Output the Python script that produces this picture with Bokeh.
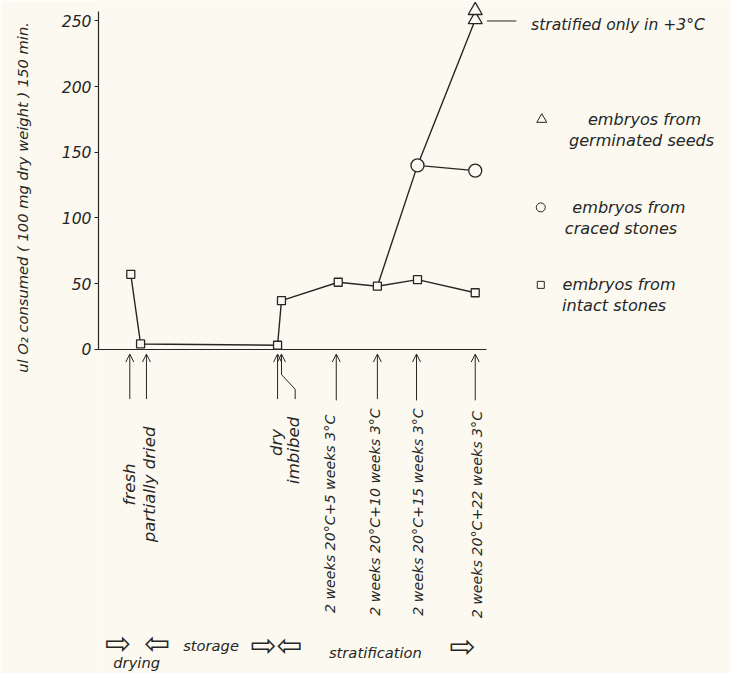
import math
from bokeh.plotting import figure
from bokeh.models import Range1d, FixedTicker, Arrow, OpenHead, ColumnDataSource, LinearAxis
from bokeh.core.properties import value
from bokeh.embed import file_html
from bokeh.resources import INLINE

# ---------------- data ----------------
stage_labels_strat = ["2 weeks 20°C+5 weeks 3°C", "2 weeks 20°C+10 weeks 3°C",
                      "2 weeks 20°C+15 weeks 3°C", "2 weeks 20°C+22 weeks 3°C"]
stage_x = [33, 43, 183, 187, 245, 285, 326, 385]       # fresh, partially dried, dry, imbibed, 5w, 10w, 15w, 22w
arrow_x = [32, 49, 183, 187, 243, 285, 325, 385]
intact = [57, 4, 3, 37, 51, 48, 53, 43]                  # embryos from intact stones
cracked_x = [326, 385]
cracked = [140, 136]                                     # embryos from craced stones
germ_line_x = [285, 326, 385]
germ_line = [48, 140, 251]                               # line towards germinated seeds
germ_x = [385, 385]
germ = [251, 258]                                        # embryos from germinated seeds
y_ticks = [0, 50, 100, 150, 200, 250]
y_title = "ul O₂ consumed ( 100 mg dry weight ) 150 min."

BG = "#fcfaf0"
INK = "#262626"
FONT = "DejaVu Sans"

p = figure(frame_width=633, frame_height=673, output_backend="svg", toolbar_location=None,
           x_range=Range1d(0, 646.9), y_range=Range1d(-247.0, 265.6),
           min_border_left=98, min_border_right=0, min_border_top=0, min_border_bottom=0,
           background_fill_color=BG, border_fill_color=BG)
p.outline_line_color = None
p.grid.visible = False

# y axis
ya = p.yaxis[0]
ya.ticker = FixedTicker(ticks=y_ticks)
ya.bounds = (0, 257)
ya.axis_line_color = INK
ya.axis_line_width = 1.2
ya.major_tick_line_color = INK
ya.major_tick_out = 4
ya.major_tick_in = 0
ya.minor_tick_line_color = None
ya.major_label_text_font = FONT
ya.major_label_text_font_style = "italic"
ya.major_label_text_font_size = "15.6px"
ya.major_label_text_color = INK
ya.major_label_standoff = 3

# extra axis carrying only the y title; leading em-spaces move it up to where the reference has it
ta = LinearAxis(ticker=FixedTicker(ticks=[]),
                axis_label="\u2003" * 19 + y_title,
                axis_label_text_font=FONT, axis_label_text_font_style="italic",
                axis_label_text_font_size="14.7px", axis_label_text_color=INK,
                axis_label_standoff=28, axis_line_color=None,
                major_tick_line_color=None, minor_tick_line_color=None,
                major_label_text_font_size="0px")
p.add_layout(ta, "left")

# x axis (baseline at y=0)
xa = p.xaxis[0]
xa.fixed_location = 0
xa.bounds = (0, 397)
xa.ticker = FixedTicker(ticks=[])
xa.axis_line_color = INK
xa.axis_line_width = 1.2
xa.major_tick_line_color = None
xa.minor_tick_line_color = None
xa.major_label_text_font_size = "0px"

# series lines
p.line(stage_x, intact, line_color=INK, line_width=1.4)
p.line(germ_line_x, germ_line, line_color=INK, line_width=1.4)
p.line(cracked_x, cracked, line_color=INK, line_width=1.4)

# markers
p.scatter(stage_x, intact, marker="square", size=8, fill_color=BG, line_color=INK, line_width=1.3)
p.scatter(cracked_x, cracked, marker="circle", size=13, fill_color=BG, line_color=INK, line_width=1.3)
p.scatter(germ_x, germ, marker="triangle", size=14, fill_color=BG, line_color=INK, line_width=1.3)

# arrows under the baseline
arr_src = ColumnDataSource(dict(
    x0=arrow_x, x1=arrow_x,
    y0=[-38, -38, -38, -19.3, -39, -38, -39, -39],
    y1=[-3.7] * len(arrow_x)))
p.add_layout(Arrow(end=OpenHead(size=8, line_color=INK, line_width=1),
                   x_start="x0", y_start="y0", x_end="x1", y_end="y1",
                   source=arr_src, line_color=INK, line_width=1))
# kinked leader of "imbibed"
p.line([arrow_x[3], arrow_x[3] + 14, arrow_x[3] + 14], [-19.3, -30.5, -38],
       line_color=INK, line_width=1)

# rotated stage labels
txt = dict(text_font=value(FONT), text_font_style="italic", text_color=INK)
p.text([32, 52], [-103, -103], text=["fresh", "partially dried"], angle=math.pi / 2,
       text_align="center", text_baseline="middle", text_font_size="16.6px", **txt)
p.text([182, 199], [-71, -77], text=["dry", "imbibed"], angle=math.pi / 2,
       text_align="center", text_baseline="middle", text_font_size="16.6px", **txt)
p.text([237, 283, 327, 387], [-201, -203, -203, -205], text=stage_labels_strat,
       angle=math.pi / 2, text_align="left", text_baseline="middle",
       text_font_size="14.2px", **txt)

# annotation
p.line([397, 427], [250, 250], line_color=INK, line_width=1)
p.text([442], [247], text=["stratified only in +3°C"], text_align="left",
       text_baseline="middle", text_font_size="15.6px", **txt)

# legend
p.scatter([453], [175], marker="triangle", size=10, fill_color=BG, line_color=INK, line_width=1)
p.scatter([452], [108], marker="circle", size=9, fill_color=BG, line_color=INK, line_width=1)
p.scatter([452], [49], marker="square", size=7, fill_color=BG, line_color=INK, line_width=1)
p.text([558, 555, 542, 534, 532, 527], [175, 159, 108, 92, 49, 33],
       text=["embryos from", "germinated seeds", "embryos from", "craced stones",
             "embryos from", "intact stones"],
       text_align="center", text_baseline="middle", text_font_size="16.1px", **txt)

# bottom phase row
p.text([20, 60, 182, 372], [-224, -224, -225.4, -226], text=["⇨", "⇦", "⇨⇦", "⇨"],
       text_align="center", text_baseline="middle", text_font_size="31px",
       text_font=value(FONT), text_color=INK)
p.text([115, 283, 39], [-225.4, -230.7, -238.5], text=["storage", "stratification", "drying"],
       text_align="center", text_baseline="middle", text_font_size="14.7px", **txt)

open("out.html", "w").write(file_html(p, INLINE))
